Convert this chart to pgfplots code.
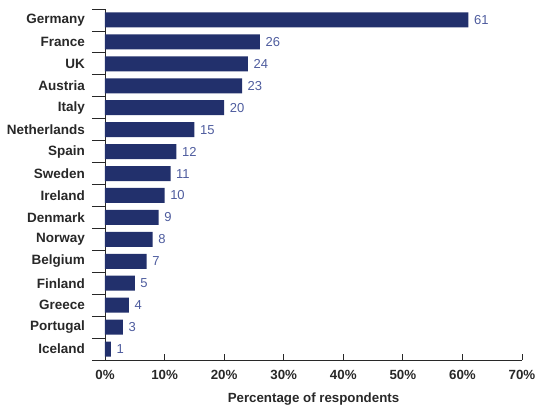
\documentclass[border=0pt]{standalone}
\usepackage{pgfplots}
\pgfplotsset{compat=1.18}
\usepackage{fontspec}
\setmainfont{Liberation Sans}
\definecolor{barnavy}{RGB}{34,48,108}
\definecolor{vallab}{RGB}{78,92,158}
\definecolor{axgray}{RGB}{40,40,40}
\begin{document}
\begin{tikzpicture}
\path[use as bounding box] (0,0) rectangle (536pt,408pt);
\begin{axis}[
  at={(105pt,48pt)}, anchor=south west,
  scale only axis, width=417pt, height=351pt,
  xbar, bar width=15pt,
  xmin=0, xmax=70, ymin=-0.5, ymax=15.5,
  axis x line*=bottom, axis y line*=left,
  axis line style={axgray, line width=0.8pt},
  xtick={0,10,...,70}, tick align=inside, major tick length=6pt,
  tick style={axgray, line width=0.8pt},
  xticklabel={\pgfmathprintnumber{\tick}\%},
  xticklabel style={font=\bfseries\fontsize{13.3}{15}\selectfont, text=axgray, inner sep=0pt, anchor=north, yshift=-10pt},
  ytick={0,...,15},
  yticklabels={Iceland,Portugal,Greece,Finland,Belgium,Norway,Denmark,Ireland,Sweden,Spain,Netherlands,Italy,Austria,UK,France,Germany},
  ytick style={draw=none},
  yticklabel style={font=\bfseries\fontsize{13.5}{15}\selectfont, text=axgray, inner sep=0pt, anchor=east, xshift=-20pt},
  xlabel={Percentage of respondents},
  xlabel style={font=\bfseries\fontsize{13.3}{15}\selectfont, text=axgray, at={(rel axis cs:0.5,0)}, anchor=base, yshift=-42.5pt},
  point meta=x,
  nodes near coords,
  nodes near coords style={font=\fontsize{13}{15}\selectfont, text=vallab, anchor=west, inner sep=0pt, xshift=5.5pt},
  clip=false,
  /pgf/number format/assume math mode=true,
]
\addplot[fill=barnavy, draw=none] coordinates {
  (1,0) (3,1) (4,2) (5,3) (7,4) (8,5) (9,6) (10,7)
  (11,8) (12,9) (15,10) (20,11) (23,12) (24,13) (26,14) (61,15)
};
\pgfplotsinvokeforeach{-0.5,0.5,...,15.5}{
  \draw[axgray, line width=0.8pt] ([xshift=-13pt]axis cs:0,#1) -- (axis cs:0,#1);
}
\end{axis}
\end{tikzpicture}
\end{document}
